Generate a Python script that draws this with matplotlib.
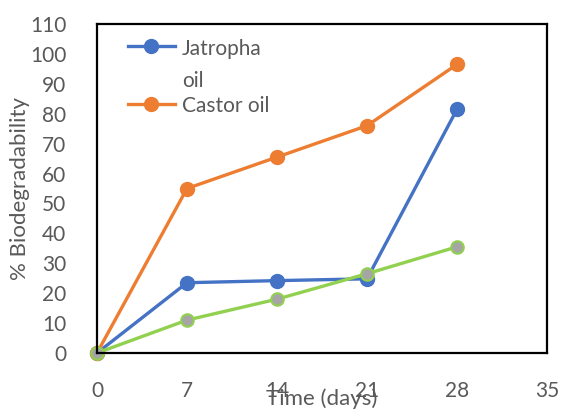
import matplotlib.pyplot as plt

# Data
days = [0, 7, 14, 21, 28]
jatropha = [0, 23.5, 24.2, 24.8, 81.5]
castor = [0, 55, 65.5, 76, 96.5]
third = [0, 11, 18, 26.5, 35.5]
x_ticks = [0, 7, 14, 21, 28, 35]
y_ticks = list(range(0, 111, 10))

plt.rcParams['font.family'] = ['Lato', 'DejaVu Sans']

fig = plt.figure(figsize=(5.61, 4.11), dpi=100)
ax = fig.add_axes([97 / 561, 1 - 353 / 411, 450 / 561, 329 / 411])

ax.plot(days, jatropha, color='#4472C4', lw=2.4, marker='o', ms=10,
        label='Jatropha\noil')
ax.plot(days, castor, color='#ED7D31', lw=2.4, marker='o', ms=10,
        label='Castor oil')
ax.plot(days, third, color='#92D050', lw=2.4, marker='o', ms=9,
        mfc='#A5A5A5', mec='#92D050', mew=1.5)

ax.set_xlim(0, 35)
ax.set_ylim(0, 110)
ax.set_xticks(x_ticks)
ax.set_yticks(y_ticks)
ax.tick_params(length=0, labelsize=15, colors='#595959', pad=20)
ax.tick_params(axis='y', pad=22)
for s in ax.spines.values():
    s.set_linewidth(1.6)
    s.set_color('black')

ax.set_xlabel('Time (days)', fontsize=16, color='#595959', labelpad=-9)
ax.set_ylabel('% Biodegradability', fontsize=16, color='#595959', labelpad=0)

leg = ax.legend(loc='upper left', frameon=False, fontsize=15,
                handlelength=2.3, handletextpad=0.3, borderaxespad=0.2,
                labelspacing=0.25, bbox_to_anchor=(0.04, 0.992))
for t in leg.get_texts():
    t.set_color('#595959')
    t.set_linespacing(1.75)
# put the handle next to the first line of a wrapped label
for col in leg._legend_handle_box.get_children():
    for row in col.get_children():
        row.align = 'top'

for ln in ax.lines:
    ln.set_clip_on(False)

fig.savefig('out.png', dpi=100)
plt.close(fig)
